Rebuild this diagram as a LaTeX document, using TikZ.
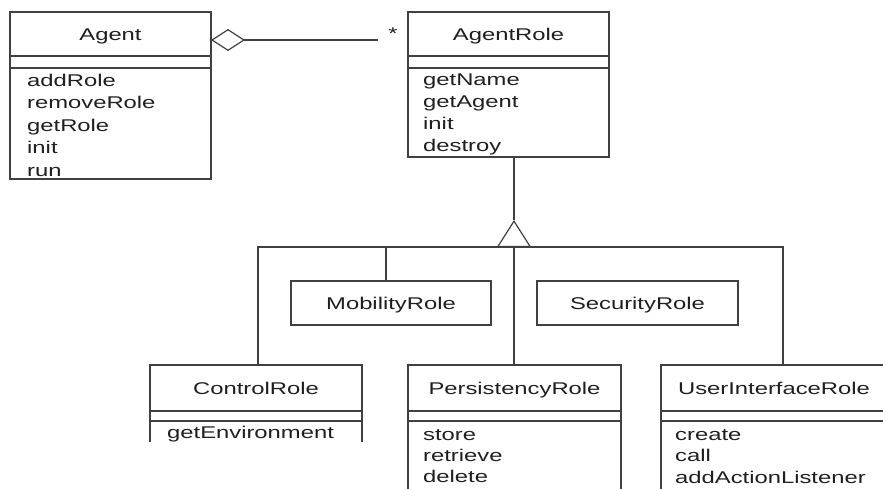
\documentclass[tikz,border=0pt]{standalone}
\usepackage{fontspec}
\newfontfamily\umlfam{Liberation Sans}[FakeStretch=1.4]
\usetikzlibrary{arrows.meta}
\newcommand\umlfont{\umlfam\fontsize{17}{22}\selectfont}
\definecolor{ln}{gray}{0.25}
\definecolor{tx}{gray}{0.12}
\begin{document}
\begin{tikzpicture}[x=1pt,y=-1pt,
 cls/.style={draw=ln, line width=1.2pt, inner sep=0pt, outer sep=0pt, rectangle},
 area/.style={inner sep=0pt, outer sep=0pt, rectangle},
 lbl/.style={font=\umlfont, text=tx, inner sep=0pt, anchor=base},
 meth/.style={font=\umlfont, text=tx, inner sep=0pt, anchor=base west},
 link/.style={draw=ln, line width=1.2pt},
]
\useasboundingbox (0,0) rectangle (883,488);
\clip (0,0) rectangle (883,488);

% Agent
\node[cls, minimum width=201pt, minimum height=167pt] (agent) at (110.5,95.5) {};
\node[lbl] (agentT) at (110.5,40) {Agent};
\draw[link] ([yshift=-44pt]agent.north west) -- ([yshift=-44pt]agent.north east);
\draw[link] ([yshift=-56pt]agent.north west) -- ([yshift=-56pt]agent.north east);
\foreach \t [count=\i] in {addRole,removeRole,getRole,init,run}
  \node[meth] (agentM\i) at (27,{86+22.5*(\i-1)}) {\t};

% AgentRole
\node[cls, minimum width=201pt, minimum height=145pt] (role) at (508.5,84.5) {};
\node[lbl] (roleT) at (508.5,40) {AgentRole};
\draw[link] ([yshift=-44pt]role.north west) -- ([yshift=-44pt]role.north east);
\draw[link] ([yshift=-56pt]role.north west) -- ([yshift=-56pt]role.north east);
\foreach \t [count=\i] in {getName,getAgent,init,destroy}
  \node[meth] (roleM\i) at (423,{85+22*(\i-1)}) {\t};

% aggregation
\coordinate (aggEnd) at (378,40);
\draw[link, {Diamond[open,length=34pt,width=22pt]}-] (agent.east |- aggEnd) -- (aggEnd);
\node[font=\umlfont, text=tx, inner sep=0pt] (mult) at (393,34) {*};

% generalization
\coordinate (apex) at (514,220);
\coordinate (tribase) at (514,247);
\draw[link] (role.south -| apex) -- (apex);

% children
\node[cls, minimum width=200pt, minimum height=44pt] (mob) at (391,303) {};
\node[lbl] (mobT) at (391,309) {MobilityRole};
\node[cls, minimum width=201pt, minimum height=44pt] (sec) at (637.5,303) {};
\node[lbl] (secT) at (637.5,309) {SecurityRole};

\node[area, minimum width=212pt, minimum height=77pt] (ctrl) at (256,403.5) {};
\draw[link] (ctrl.south west) -- (ctrl.north west) -- (ctrl.north east) -- (ctrl.south east);
\draw[link] ([yshift=-46pt]ctrl.north west) -- ([yshift=-46pt]ctrl.north east);
\draw[link] ([yshift=-56pt]ctrl.north west) -- ([yshift=-56pt]ctrl.north east);
\node[lbl] (ctrlT) at (256,394) {ControlRole};
\node[meth] (ctrlM1) at (167,438) {getEnvironment};

\node[cls, minimum width=213pt, minimum height=130pt] (pers) at (514.5,430) {};
\draw[link] ([yshift=-46pt]pers.north west) -- ([yshift=-46pt]pers.north east);
\draw[link] ([yshift=-56pt]pers.north west) -- ([yshift=-56pt]pers.north east);
\node[lbl] (persT) at (514.5,394) {PersistencyRole};
\foreach \t [count=\i] in {store,retrieve,delete}
  \node[meth] (persM\i) at (423,{440+21*(\i-1)}) {\t};

\node[cls, minimum width=226pt, minimum height=130pt] (ui) at (774,430) {};
\draw[link] ([yshift=-46pt]ui.north west) -- ([yshift=-46pt]ui.north east);
\draw[link] ([yshift=-56pt]ui.north west) -- ([yshift=-56pt]ui.north east);
\node[lbl] (uiT) at (774,394) {UserInterfaceRole};
\foreach \t [count=\i] in {create,call,addActionListener}
  \node[meth] (uiM\i) at (675,{440+21.5*(\i-1)}) {\t};

% inheritance connectors
\draw[link] (tribase) -| ([xshift=2pt]ctrl.north);
\draw[link] (tribase) -| ([xshift=-5pt]mob.north);
\draw[link] (tribase) -- (tribase |- pers.north);
\draw[link] (tribase) -| ([xshift=9pt]ui.north);
\draw[link, -{Triangle[open,length=27pt,width=34pt]}] (tribase) -- (apex);
\end{tikzpicture}
\end{document}
